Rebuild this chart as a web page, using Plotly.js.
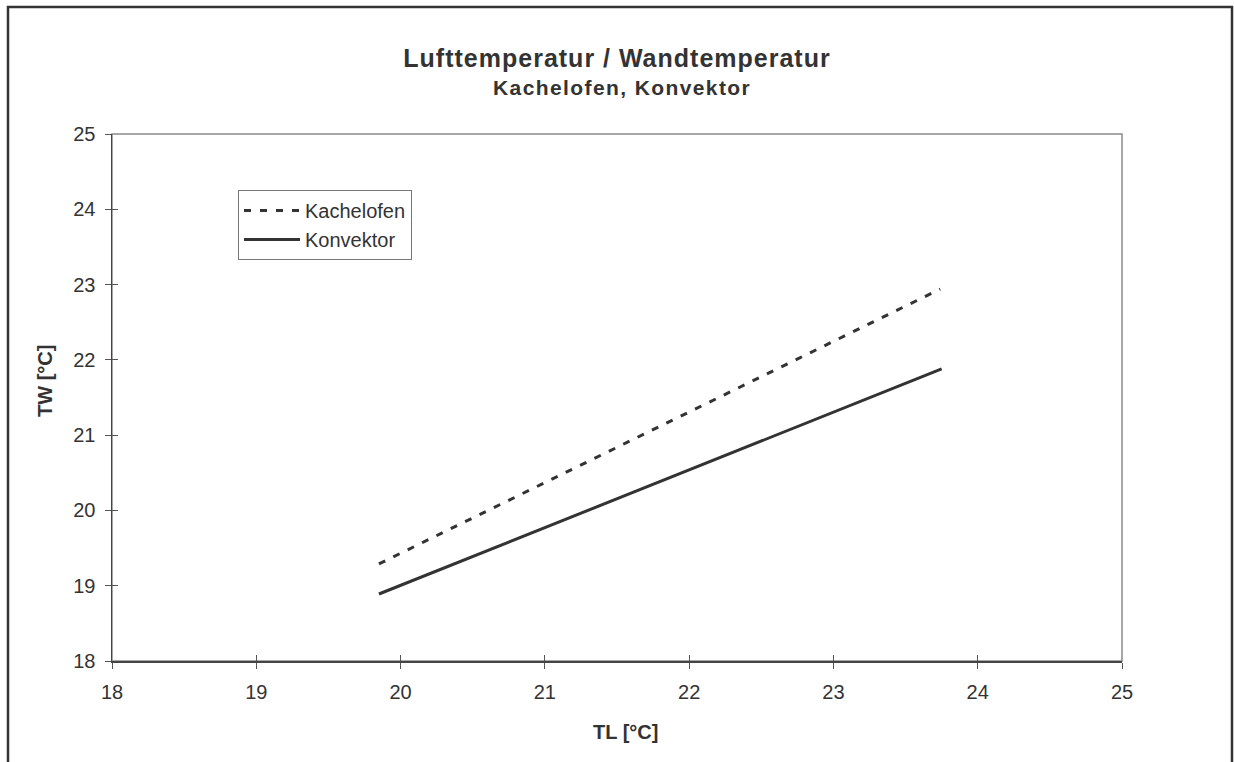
<!DOCTYPE html>
<html>
<head>
<meta charset="utf-8">
<script src="https://cdn.plot.ly/plotly-3.0.1.min.js"></script>
<style>
html,body{margin:0;padding:0;background:#fff;overflow:hidden;}
#chart{width:1234px;height:762px;}
</style>
</head>
<body>
<div id="chart"></div>
<script>
// Data
const seriesNames = ["Kachelofen", "Konvektor"];
const kachelofenTL = [19.85, 23.74];
const kachelofenTW = [19.29, 22.94];
const konvektorTL = [19.85, 23.75];
const konvektorTW = [18.89, 21.88];
const tickValues = [18, 19, 20, 21, 22, 23, 24, 25];

const FONT = "Liberation Sans, Arial, sans-serif";
const INK = "#333333";

const kach = {
  x: kachelofenTL, y: kachelofenTW, name: seriesNames[0], type: "scatter", mode: "lines",
  line: {color: INK, width: 3, dash: "7px,9px"}
};
const konv = {
  x: konvektorTL, y: konvektorTW, name: seriesNames[1], type: "scatter", mode: "lines",
  line: {color: INK, width: 3}
};
// invisible copy on overlay axes so that inward tick marks are drawn (ticks crossing axes)
const ghost = {
  x: konvektorTL, y: konvektorTW, xaxis: "x2", yaxis: "y2", type: "scatter", mode: "lines",
  line: {color: "rgba(0,0,0,0)", width: 0}, showlegend: false, hoverinfo: "skip"
};

const W = 1234, H = 762;
const mL = 112, mR = 112, mT = 134, mB = 101;
const pw = W - mL - mR, ph = H - mT - mB;

const axisBase = {
  range: [18, 25], tickvals: tickValues, ticktext: tickValues.map(String),
  showgrid: false, zeroline: false, showline: true, linecolor: "#444", linewidth: 1.5,
  tickcolor: "#555", tickwidth: 1, ticklen: 6, fixedrange: true,
  tickfont: {family: FONT, size: 20, color: INK}
};

const layout = {
  width: W, height: H,
  margin: {l: mL, r: mR, t: mT, b: mB, pad: 0},
  paper_bgcolor: "#fff", plot_bgcolor: "#fff",
  showlegend: true,
  font: {family: FONT, color: INK},
  title: {
    text: "<span style='letter-spacing:1px'><b>Lufttemperatur / Wandtemperatur</b></span>",
    font: {family: FONT, size: 25, color: INK},
    x: 0.5, xanchor: "center", y: 1 - 58 / H, yanchor: "middle"
  },
  xaxis: Object.assign({}, axisBase, {
    ticks: "outside", anchor: "y", ticklabelstandoff: 6
  }),
  yaxis: Object.assign({}, axisBase, {
    ticks: "outside", anchor: "x", ticklabelstandoff: 5
  }),
  xaxis2: Object.assign({}, axisBase, {
    overlaying: "x", anchor: "y2", side: "bottom", ticks: "inside", showticklabels: false
  }),
  yaxis2: Object.assign({}, axisBase, {
    overlaying: "y", anchor: "x2", side: "left", ticks: "inside", showticklabels: false
  }),
  annotations: [
    {text: "<span style='letter-spacing:1.4px'><b>Kachelofen, Konvektor</b></span>",
     xref: "paper", yref: "paper", x: (622 - mL) / pw, y: (mT + ph - 88) / ph,
     xanchor: "center", yanchor: "middle", showarrow: false,
     font: {family: FONT, size: 21, color: INK}},
    {text: "<b>TL [°C]</b>", xref: "paper", yref: "paper",
     x: (625 - mL) / pw, y: (mT + ph - 732) / ph, xanchor: "center", yanchor: "middle",
     showarrow: false, font: {family: FONT, size: 20, color: INK}},
    {text: "<b>TW [°C]</b>", xref: "paper", yref: "paper", textangle: -90,
     x: (45 - mL) / pw, y: (mT + ph - 381) / ph, xanchor: "center", yanchor: "middle",
     showarrow: false, font: {family: FONT, size: 20, color: INK}}
  ],
  legend: {
    x: (238 - mL) / pw, y: (661 - 190) / ph, xanchor: "left", yanchor: "top",
    bgcolor: "#fff", bordercolor: "#777", borderwidth: 1,
    font: {family: FONT, size: 20, color: INK},
    tracegroupgap: 0, itemwidth: 56
  },
  shapes: [
    // plot frame (top / right lighter)
    {type: "rect", xref: "paper", yref: "paper", x0: 0, x1: 1, y0: 0, y1: 1,
     line: {color: "#8a8a8a", width: 1.5}, layer: "below"},
    // outer chart border
    {type: "rect", xref: "paper", yref: "paper",
     x0: (8 - mL) / pw, x1: (1232 - mL) / pw, y0: -(H + 20 - (mT + ph)) / ph, y1: (mT + ph - 7) / ph,
     line: {color: "#333", width: 2.5}, layer: "below"}
  ]
};

Plotly.newPlot("chart", [kach, konv, ghost], layout, {displayModeBar: false, staticPlot: true});
</script>
</body>
</html>
